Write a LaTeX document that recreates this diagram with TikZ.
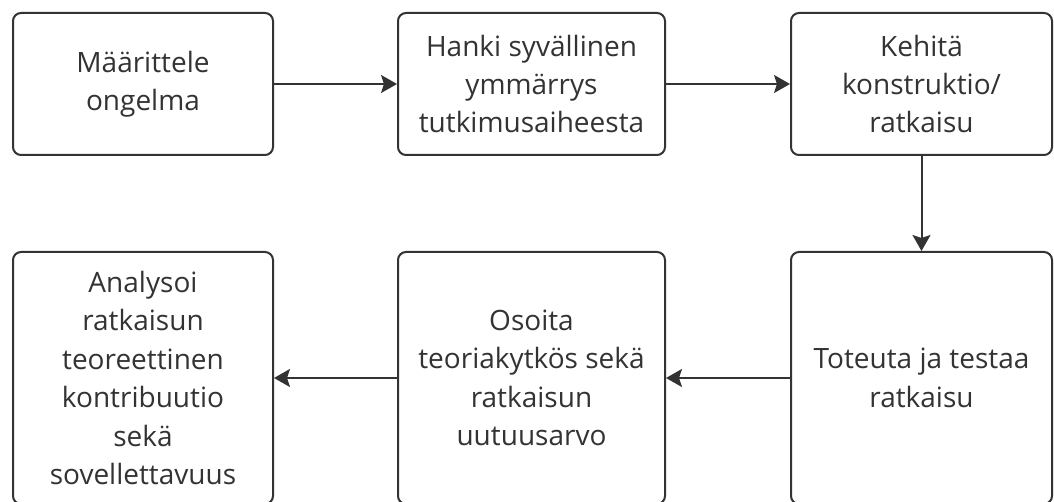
\documentclass[tikz,border=0pt]{standalone}
\usepackage{fontspec}
\setmainfont{Open Sans}
\usetikzlibrary{arrows.meta}
\definecolor{ink}{HTML}{333333}
\tikzset{
  stepbox/.style={draw=ink, line width=2pt, rounded corners=8pt, rectangle,
    align=center, text=ink, inner sep=0pt,
    font=\fontsize{28pt}{38.4pt}\selectfont},
  flow/.style={draw=ink, line width=2pt, -{Stealth[length=16pt,width=18pt,inset=3pt]}}
}
\begin{document}
\begin{tikzpicture}[x=1pt,y=-1pt]
\useasboundingbox[fill=white] (0,0) rectangle (1054,502);
\node[stepbox, minimum width=260pt, minimum height=142pt] (a) at (143,84) {Määrittele\\ongelma};
\node[stepbox, minimum width=267pt, minimum height=142pt] (b) at (531.5,84) {Hanki syvällinen\\ymmärrys\\tutkimusaiheesta};
\node[stepbox, minimum width=261pt, minimum height=142pt] (c) at (921.5,84) {Kehitä\\konstruktio/\\ratkaisu};
\node[stepbox, minimum width=261pt, minimum height=252pt] (f) at (921.5,378) {Toteuta ja testaa\\ratkaisu};
\node[stepbox, minimum width=267pt, minimum height=252pt] (e) at (531.5,378) {Osoita\\teoriakytkös sekä\\ratkaisun\\uutuusarvo};
\node[stepbox, minimum width=260pt, minimum height=252pt] (d) at (143,378) {Analysoi\\ratkaisun\\teoreettinen\\kontribuutio\\sekä\\sovellettavuus};
\draw[flow] (a) -- (b);
\draw[flow] (b) -- (c);
\draw[flow] (c) -- (f);
\draw[flow] (f) -- (e);
\draw[flow] (e) -- (d);
\end{tikzpicture}
\end{document}
